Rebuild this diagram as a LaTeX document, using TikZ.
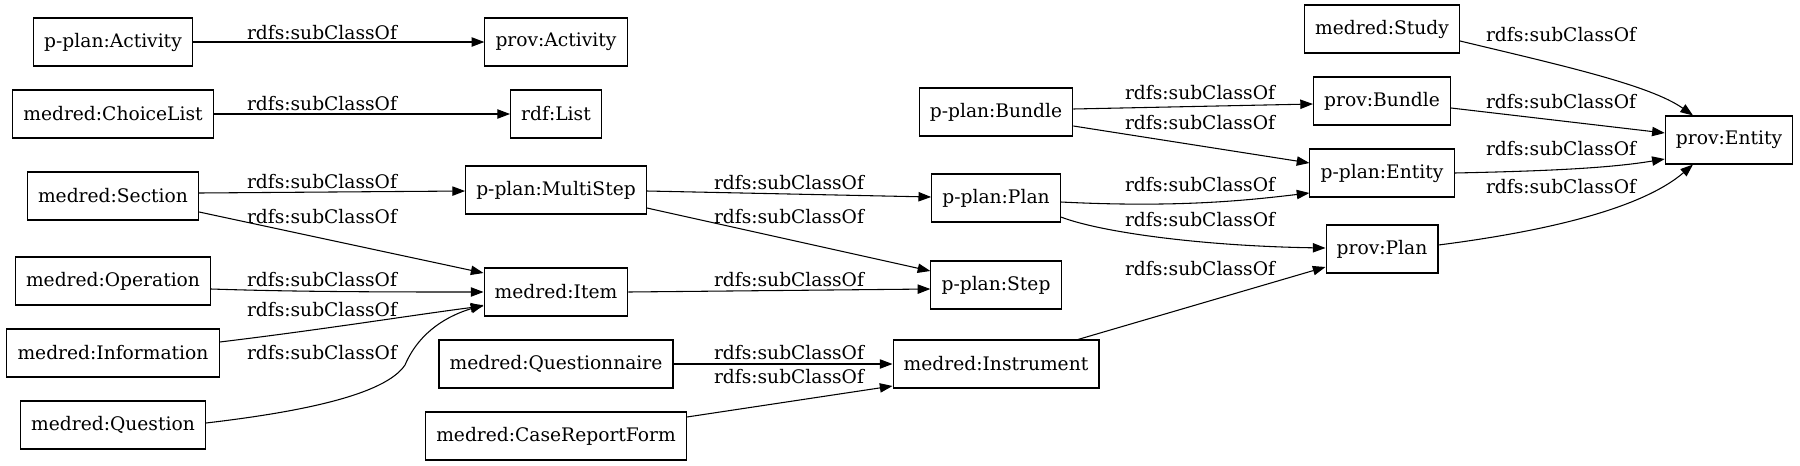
\documentclass[tikz,border=0pt]{standalone}
\usepackage{fontspec}
\usepackage{tikz}
\setmainfont{DejaVu Serif}
\usetikzlibrary{arrows.meta, calc}

\tikzset{
  cls/.style={draw, line width=0.8pt, minimum height=36pt, inner xsep=8pt, font=\fontsize{14}{17}\selectfont},
  sub/.style={-{Triangle[length=9.5pt, width=7pt]}, line width=0.8pt},
  lbl/.style={font=\fontsize{14}{17}\selectfont, inner sep=0pt}
}

\begin{document}
\begin{tikzpicture}[x=0.75pt, y=-0.75pt]
  \useasboundingbox (0,0) rectangle (1800,465);

  % Klassen links
  \node[cls] (pact) at (113,42) {p-plan:Activity};
  \node[cls] (choice) at (113,114) {medred:ChoiceList};
  \node[cls] (section) at (113,196) {medred:Section};
  \node[cls] (operation) at (113,281) {medred:Operation};
  \node[cls] (info) at (113,353) {medred:Information};
  \node[cls] (question) at (113,425) {medred:Question};

  % Zweite Spalte
  \node[cls] (provact) at (556,42) {prov:Activity};
  \node[cls] (rdflist) at (556,114) {rdf:List};
  \node[cls] (multi) at (556,190) {p-plan:MultiStep};
  \node[cls] (item) at (556,292) {medred:Item};
  \node[cls] (questionnaire) at (556,364) {medred:Questionnaire};
  \node[cls] (crf) at (556,436) {medred:CaseReportForm};

  % Dritte Spalte
  \node[cls] (bundle) at (996,112) {p-plan:Bundle};
  \node[cls] (plan) at (996,198) {p-plan:Plan};
  \node[cls] (step) at (996,285) {p-plan:Step};
  \node[cls] (instr) at (996,364) {medred:Instrument};

  % PROV-Klassen
  \node[cls] (study) at (1382,29) {medred:Study};
  \node[cls] (provbundle) at (1382,101) {prov:Bundle};
  \node[cls] (pentity) at (1382,173) {p-plan:Entity};
  \node[cls] (provplan) at (1382,249) {prov:Plan};
  \node[cls] (proventity) at (1729,140) {prov:Entity};

  % Unterklassen-Kanten
  \draw[sub] (pact) -- (provact);
  \draw[sub] (choice) -- (rdflist);
  \draw[sub] ($(section.east)+(0,-3)$) -- ($(multi.west)+(0,1)$);
  \draw[sub] ($(section.east)+(0,16)$) -- ($(item.west)+(0,-19)$);
  \draw[sub] ($(operation.east)+(0,8)$) .. controls (300,292) and (400,292) .. (item.west);
  \draw[sub] ($(info.east)+(0,-11)$) .. controls (320,330) and (420,314) .. ($(item.west)+(0,14)$);
  \draw[sub] ($(question.east)+(0,-2)$) .. controls (300,412) and (385,395) .. (405,365)
    .. controls (420,330) and (450,315) .. ($(item.west)+(0,13)$);

  \draw[sub] ($(multi.east)+(0,1)$) -- ($(plan.west)+(0,-1)$);
  \draw[sub] ($(multi.east)+(0,18)$) -- ($(step.west)+(0,-14)$);
  \draw[sub] (item.east) -- ($(step.west)+(0,4)$);
  \draw[sub] (questionnaire.east) -- (instr.west);
  \draw[sub] ($(crf.east)+(0,-19)$) -- ($(instr.west)+(0,22)$);

  \draw[sub] ($(bundle.east)+(0,-3)$) -- ($(provbundle.west)+(0,3)$);
  \draw[sub] ($(bundle.east)+(0,14)$) -- ($(pentity.west)+(0,-10)$);
  \draw[sub] ($(plan.east)+(0,4)$) .. controls (1180,208) and (1250,200) .. ($(pentity.west)+(0,20)$);
  \draw[sub] ($(plan.east)+(0,19)$) .. controls (1100,232) and (1200,246) .. ($(provplan.west)+(0,-1)$);
  \draw[sub] ($(instr.north)+(82,0)$) -- ($(provplan.west)+(0,18)$);

  \draw[sub] ($(study.east)+(0,12)$) .. controls (1560,65) and (1650,85) .. ($(proventity.north)+(-36,0)$);
  \draw[sub] ($(provbundle.east)+(0,7)$) -- ($(proventity.west)+(0,-7)$);
  \draw[sub] (pentity.east) .. controls (1550,171) and (1610,168) .. ($(proventity.west)+(0,19)$);
  \draw[sub] ($(provplan.east)+(0,-4)$) .. controls (1540,232) and (1640,210) .. ($(proventity.south)+(-36,0)$);

  % Kantenbeschriftungen
  \foreach \lx/\ly [count=\i] in {322/33, 322/104, 322/182, 322/217, 322/280, 322/310, 322/353,
      789/183, 789/217, 789/280, 789/353, 789/377,
      1200/93, 1200/123, 1200/185, 1200/220, 1200/269,
      1561/35, 1561/102, 1561/149, 1561/187}
    \node[lbl] (lab\i) at (\lx,\ly) {rdfs:subClassOf};
\end{tikzpicture}
\end{document}
